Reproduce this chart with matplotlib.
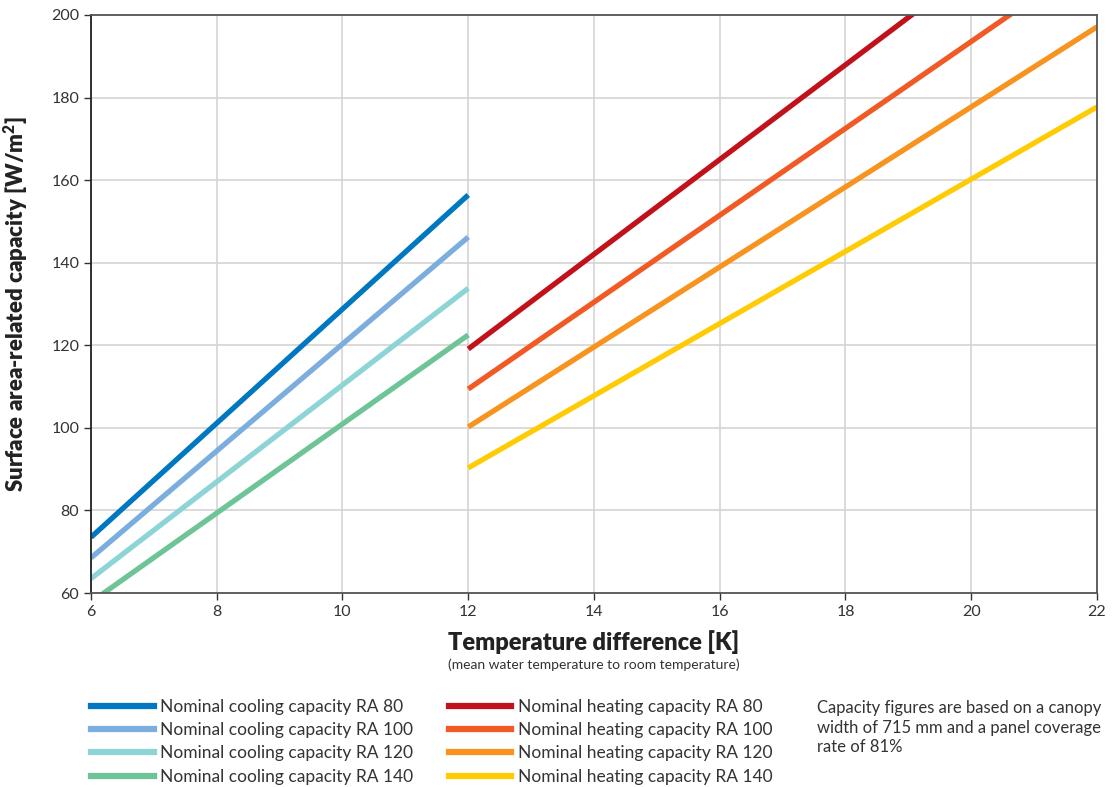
import numpy as np
import matplotlib
matplotlib.use("Agg")
import matplotlib.pyplot as plt
from matplotlib.lines import Line2D

plt.rcParams['font.family'] = ['Lato', 'DejaVu Sans']

# cooling lines, temperature difference 6..12 K
cool_x = [6, 12]
cool_ra80 = [73.5, 156.4]
cool_ra100 = [68.5, 146.2]
cool_ra120 = [63.5, 133.8]
cool_ra140 = [57.8, 122.5]

# heating lines, temperature difference 12..22 K
heat_x = [12, 22]
heat_ra80 = [119.1, 233.8]
heat_ra100 = [109.4, 214.6]
heat_ra120 = [100.2, 197.1]
heat_ra140 = [90.3, 177.7]

cool_labels = ["Nominal cooling capacity RA 80", "Nominal cooling capacity RA 100",
               "Nominal cooling capacity RA 120", "Nominal cooling capacity RA 140"]
heat_labels = ["Nominal heating capacity RA 80", "Nominal heating capacity RA 100",
               "Nominal heating capacity RA 120", "Nominal heating capacity RA 140"]
cool_colors = ["#0078c1", "#7badde", "#8dd4d6", "#6dc597"]
heat_colors = ["#c1121c", "#f15a24", "#f7931e", "#ffcb05"]

fig = plt.figure(figsize=(11.14, 7.87), dpi=100)
ax = fig.add_axes([0.0817, 0.2465, 0.903, 0.7345])

for ys, c in zip([cool_ra80, cool_ra100, cool_ra120, cool_ra140], cool_colors):
    ax.plot(cool_x, ys, color=c, lw=3.8, solid_capstyle='butt')
for ys, c in zip([heat_ra80, heat_ra100, heat_ra120, heat_ra140], heat_colors):
    ax.plot(heat_x, ys, color=c, lw=3.8, solid_capstyle='butt')

ax.set_xlim(6, 22)
ax.set_ylim(60, 200)
ax.set_xticks(np.arange(6, 23, 2))
ax.set_yticks(np.arange(60, 201, 20))
ax.grid(True, color="#d4d4d4", lw=1.2)
ax.set_axisbelow(True)
ax.tick_params(length=5, width=1, labelsize=11.5, colors="#333333", labelcolor="#333333")
ax.spines['left'].set_color("#222222")
for s in ['bottom', 'top', 'right']:
    ax.spines[s].set_color("#555555")
for s in ax.spines.values():
    s.set_linewidth(1.3)

ax.set_ylabel("Surface area-related capacity [W/m$\\mathregular{^2}$]", fontsize=16,
              fontweight='heavy', color="#222222")
ax.yaxis.set_label_coords(-0.061, 0.5)
fig.text(0.5332, 0.184, "Temperature difference [K]", ha='center', va='center',
         fontsize=17, fontweight='heavy', color="#222222")
fig.text(0.5332, 0.155, "(mean water temperature to room temperature)", ha='center',
         va='center', fontsize=10, color="#333333")

cool_handles = [Line2D([], [], color=c, lw=4.5) for c in cool_colors]
heat_handles = [Line2D([], [], color=c, lw=4.5) for c in heat_colors]
leg_kw = dict(frameon=False, fontsize=12.5, handlelength=3.6, handletextpad=0.35,
              labelspacing=0.42, borderaxespad=0, borderpad=0, labelcolor="#333333")
fig.legend(cool_handles, cool_labels, loc='upper left',
           bbox_to_anchor=(0.082, 0.112), **leg_kw)
fig.legend(heat_handles, heat_labels, loc='upper left',
           bbox_to_anchor=(0.403, 0.112), **leg_kw)

fig.text(0.7334, 0.111, "Capacity figures are based on a canopy\nwidth of 715 mm and a panel coverage\nrate of 81%",
         ha='left', va='top', fontsize=12, color="#333333", linespacing=1.3)

fig.savefig("out.png", dpi=100)
